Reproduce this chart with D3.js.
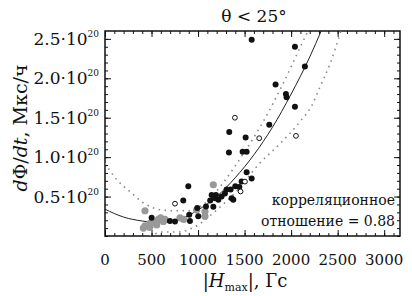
<!DOCTYPE html>
<html>
<head>
<meta charset="utf-8">
<script src="https://cdn.jsdelivr.net/npm/d3@7"></script>
<style>
  body { margin: 0; background: white; }
  svg text { fill: #111; }
  .frame { fill: none; stroke: #111; stroke-width: 1.5; }
  .tick line { stroke: #111; stroke-width: 1; }
  .domain { display: none; }
</style>
</head>
<body>
<div id="chart"></div>
<script>
// |H_max| in Gs, dPhi/dt in 1e20 Mx/h
var blackPts = [
  [1576,2.49],[2041,2.40],[2148,2.15],[1833,1.92],[1944,1.80],[1951,1.76],[2041,1.64],
  [1335,1.32],[1511,1.25],[1765,1.41],[1332,1.06],[1479,1.07],[1522,1.07],[1522,0.81],
  [1576,0.73],[1443,0.62],[1350,0.59],[1307,0.59],[1289,0.54],[1253,0.50],[1218,0.46],
  [1182,0.48],[1164,0.37],[1192,0.52],[1146,0.52],[1361,0.48],[1379,0.46],[1400,0.63],
  [1468,0.69],[895,0.63],[841,0.45],[991,0.355],[1085,0.375],[1002,0.25],[905,0.27],
  [913,0.19],[698,0.19],[752,0.185],[501,0.23],[1130,0.45]
];
var grayPts = [
  [430,0.32],[430,0.13],[483,0.16],[519,0.17],[555,0.14],[598,0.23],[627,0.185],
  [573,0.21],[644,0.21],[806,0.23],[845,0.21],[1074,0.25],[1074,0.31],[1164,0.65],
  [985,0.33],[412,0.10],[480,0.11]
];
var openPts = [[1396,1.50],[1657,1.24],[2052,1.27],[1504,0.69],[1457,0.565],[752,0.41]];

var fitCurve = [
  [0,0.34],[200,0.24],[400,0.19],[600,0.17],[800,0.21],[1000,0.33],[1200,0.50],
  [1400,0.74],[1600,1.03],[1800,1.38],[2000,1.80],[2200,2.27],[2330,2.62]
];
var upperBand = [
  [0,0.92],[130,0.71],[270,0.56],[400,0.43],[610,0.33],[750,0.32],[880,0.32],
  [1000,0.36],[1120,0.46],[1260,0.66],[1480,1.03],[1700,1.45],[1900,1.90],[2120,2.45],[2190,2.62]
];
var lowerBand = [
  [480,0.0],[620,0.05],[780,0.05],[970,0.12],[1200,0.33],[1400,0.55],[1660,0.92],
  [1880,1.17],[2095,1.45],[2225,1.66],[2310,1.89],[2420,2.19],[2540,2.62]
];

var xTicks = [0,500,1000,1500,2000,2500,3000];
var yTicks = [0.5,1.0,1.5,2.0,2.5];
var yTickLabels = ["0.5","1.0","1.5","2.0","2.5"];

var margin = {top: 31, right: 12, bottom: 60, left: 105};
var width = 295, height = 205;
var serif = "DejaVu Serif";

var svg = d3.select("#chart").append("svg")
  .attr("width", 412).attr("height", 296)
  .attr("font-family", serif);

var g = svg.append("g")
  .attr("transform", "translate(" + margin.left + "," + margin.top + ")");

var x = d3.scaleLinear().domain([0, 3170]).range([0, width]);
var y = d3.scaleLinear().domain([0, 2.6]).range([height, 0]);

svg.append("defs").append("clipPath").attr("id", "clip")
  .append("rect").attr("width", width).attr("height", height);

// ticks on all four sides, pointing in
var xMinor = d3.range(0, 3101, 100);
var yMinor = d3.range(0, 26).map(d => d / 10);

g.append("g").attr("transform", "translate(0," + height + ")")
  .call(d3.axisBottom(x).tickValues(xMinor).tickSize(-3).tickFormat(""));
g.append("g").attr("transform", "translate(0," + height + ")")
  .call(d3.axisBottom(x).tickValues(xTicks).tickSize(-6).tickFormat(""));
g.append("g")
  .call(d3.axisTop(x).tickValues(xMinor).tickSize(-3).tickFormat(""));
g.append("g")
  .call(d3.axisTop(x).tickValues(xTicks).tickSize(-6).tickFormat(""));
g.append("g")
  .call(d3.axisLeft(y).tickValues(yMinor).tickSize(-3).tickFormat(""));
g.append("g")
  .call(d3.axisLeft(y).tickValues(yTicks).tickSize(-6).tickFormat(""));
g.append("g").attr("transform", "translate(" + width + ",0)")
  .call(d3.axisRight(y).tickValues(yMinor).tickSize(-3).tickFormat(""));
g.append("g").attr("transform", "translate(" + width + ",0)")
  .call(d3.axisRight(y).tickValues(yTicks).tickSize(-6).tickFormat(""));

g.append("rect").attr("class", "frame")
  .attr("width", width).attr("height", height);

// tick labels
g.selectAll("text.xl").data(xTicks).enter().append("text")
  .attr("class", "xl")
  .attr("x", d => x(d)).attr("y", height + 29)
  .attr("text-anchor", "middle")
  .style("font-family", serif)
  .style("font-size", "15px")
  .text(d => d);

var yl = g.selectAll("text.yl").data(yTicks).enter().append("text")
  .attr("class", "yl")
  .attr("x", -6).attr("y", d => y(d) + 6)
  .attr("text-anchor", "end")
  .style("font-family", serif)
  .style("font-size", "17px");
yl.append("tspan").text((d, i) => yTickLabels[i] + "\u00b710");
yl.append("tspan").attr("dy", -8).style("font-size", "9px").text("20");

// curves
var line = d3.line().x(d => x(d[0])).y(d => y(d[1])).curve(d3.curveMonotoneX);
var curves = g.append("g").attr("clip-path", "url(#clip)");
curves.append("path").datum(upperBand).attr("d", line)
  .attr("fill", "none").attr("stroke", "#888").attr("stroke-width", 1.6)
  .attr("stroke-dasharray", "1.5,4.5");
curves.append("path").datum(lowerBand).attr("d", line)
  .attr("fill", "none").attr("stroke", "#888").attr("stroke-width", 1.6)
  .attr("stroke-dasharray", "1.5,4.5");
curves.append("path").datum(fitCurve).attr("d", line)
  .attr("fill", "none").attr("stroke", "#222").attr("stroke-width", 1);

// points
g.selectAll("circle.gray").data(grayPts).enter().append("circle")
  .attr("class", "gray")
  .attr("cx", d => x(d[0])).attr("cy", d => y(d[1])).attr("r", 3.6)
  .attr("fill", "#999");
g.selectAll("circle.black").data(blackPts).enter().append("circle")
  .attr("class", "black")
  .attr("cx", d => x(d[0])).attr("cy", d => y(d[1])).attr("r", 3)
  .attr("fill", "#111");
g.selectAll("circle.open").data(openPts).enter().append("circle")
  .attr("class", "open")
  .attr("cx", d => x(d[0])).attr("cy", d => y(d[1])).attr("r", 2.4)
  .attr("fill", "white").attr("stroke", "#111").attr("stroke-width", 1);

// annotation
g.append("text").attr("x", width - 5).attr("y", 174)
  .attr("text-anchor", "end").style("font-family", serif).style("font-size", "14px")
  .text("корреляционное");
g.append("text").attr("x", width - 5).attr("y", 195)
  .attr("text-anchor", "end").style("font-family", serif).style("font-size", "14px")
  .text("отношение = 0.88");

// title
svg.append("text").attr("x", 254).attr("y", 22)
  .attr("text-anchor", "middle").style("font-family", serif).style("font-size", "17px")
  .text("\u03b8 < 25\u00b0");

// x label
var xlab = svg.append("text").attr("x", 245).attr("y", 287)
  .attr("text-anchor", "middle").style("font-family", serif).style("font-size", "18px");
xlab.append("tspan").text("|");
xlab.append("tspan").style("font-style", "italic").text("H");
xlab.append("tspan").attr("dy", 4).style("font-size", "11px").text("max");
xlab.append("tspan").attr("dy", -4).text("|, Гс");

// y label
var ylab = svg.append("text")
  .attr("transform", "translate(27,128) rotate(-90)")
  .attr("text-anchor", "middle").style("font-family", serif).style("font-size", "19px");
ylab.append("tspan").style("font-style", "italic").text("d");
ylab.append("tspan").text("\u03a6/");
ylab.append("tspan").style("font-style", "italic").text("dt");
ylab.append("tspan").text(", Мкс/ч");
</script>
</body>
</html>
